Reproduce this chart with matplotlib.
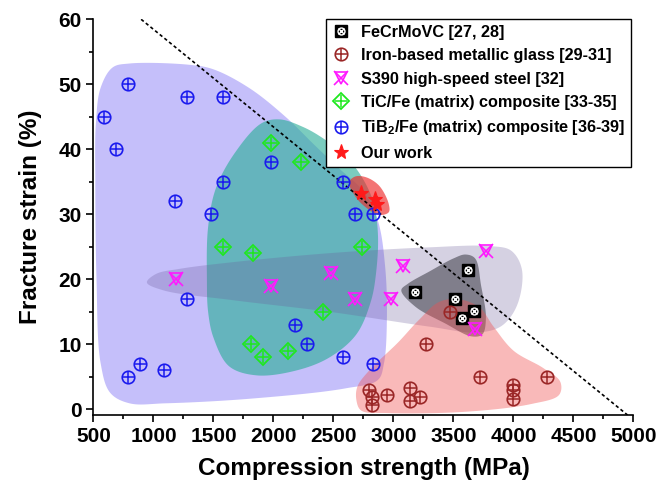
import numpy as np
import matplotlib
matplotlib.use('Agg')
import matplotlib.pyplot as plt
from matplotlib.patches import Polygon
from matplotlib.legend_handler import HandlerTuple
from matplotlib.ticker import MultipleLocator

plt.rcParams['font.family'] = ['Liberation Sans', 'DejaVu Sans']
plt.rcParams['font.weight'] = 'bold'
plt.rcParams['mathtext.fontset'] = 'custom'
plt.rcParams['mathtext.bf'] = 'Liberation Sans:bold'
plt.rcParams['mathtext.rm'] = 'Liberation Sans:bold'
plt.rcParams['mathtext.default'] = 'bf'

# ---------------- data ----------------
fecrmovc_x = [3180, 3620, 3510, 3670, 3570]
fecrmovc_y = [18.0, 21.4, 17.0, 15.1, 14.0]

glass_x = [3470, 3270, 3720, 4280, 4000, 4000, 4000, 2800, 2825, 2825, 2950, 3135, 3135, 3220]
glass_y = [15.0, 10.0, 5.0, 5.0, 3.7, 2.9, 1.6, 2.9, 1.8, 0.6, 2.2, 3.2, 1.2, 1.9]

s390_x = [1190, 1980, 2480, 3080, 2680, 2980, 3770, 3680]
s390_y = [20.0, 19.0, 21.0, 22.0, 17.0, 17.0, 24.4, 12.4]

tic_x = [1980, 2230, 1580, 1830, 1810, 1910, 2120, 2410, 2740]
tic_y = [41.0, 38.0, 25.0, 24.0, 10.0, 8.0, 9.0, 15.0, 25.0]

tib2_x = [590, 690, 790, 1280, 1580, 1180, 1480, 1580, 1980, 2580,
          2680, 2830, 1280, 790, 890, 1090, 2180, 2280, 2580, 2830]
tib2_y = [45, 40, 50, 48, 48, 32, 30, 35, 38, 35,
          30, 30, 17, 5, 7, 6, 13, 10, 8, 7]

ours_x = [2730, 2850, 2860]
ours_y = [33.3, 32.3, 31.5]

ref_line_x = [897, 4950]
ref_line_y = [60, -0.9]

# region outlines (control points, data coords)
tib2_hull_x = [520, 560, 660, 800, 1300, 1500, 1800, 2100, 2350, 2550, 2750, 2870, 2930, 2945, 2920, 2870, 2600, 1800, 1100, 800, 640, 560, 525, 515]
tib2_hull_y = [44, 49.5, 52.6, 53.2, 53.0, 52.3, 49.4, 45.0, 40.5, 37.0, 33.5, 29.0, 22, 14, 7, 4.5, 3.2, 1.6, 0.9, 0.9, 2.5, 7, 20, 35]

tic_hull_x = [1445, 1455, 1520, 1680, 1900, 2050, 2250, 2420, 2580, 2720, 2830, 2870, 2855, 2810, 2690, 2470, 2200, 1860, 1630, 1500, 1455]
tic_hull_y = [20, 28, 34, 39.5, 44.0, 44.6, 43.4, 41.6, 39.3, 36.2, 32, 27, 21, 16.5, 11.5, 8, 6.0, 5.2, 6.6, 11, 15]

s390_hull_x = [945, 1020, 1220, 1650, 2460, 3290, 3800, 3980, 4070, 4030, 3900, 3700, 3300, 2460, 1650, 1080]
s390_hull_y = [19.5, 20.8, 21.6, 22.6, 24.0, 24.9, 25.1, 24.4, 21.5, 16, 12.8, 11.8, 12.7, 15, 16.8, 18.3]

fecr_hull_x = [3065, 3120, 3300, 3500, 3600, 3680, 3730, 3770, 3740, 3650, 3430, 3180]
fecr_hull_y = [18.3, 19.3, 21.2, 23.2, 23.8, 23.2, 19, 14, 11.5, 11.2, 13.2, 15.8]

glass_hull_x = [2700, 2800, 3040, 3210, 3380, 3550, 3720, 3830, 4000, 4250, 4390, 4380, 4150, 3600, 2950, 2730, 2690]
glass_hull_y = [3.5, 6, 10.3, 13.7, 16.5, 16.9, 15.6, 12.8, 9, 6.3, 4.2, 2.2, 0.8, -0.4, -0.6, -0.2, 1.5]

ours_hull_x = [2630, 2680, 2770, 2880, 2960, 2960, 2880, 2760, 2680]
ours_hull_y = [34.9, 35.8, 35.7, 34.4, 31.6, 30.3, 29.9, 31.2, 32.8]

labels = ['FeCrMoVC [27, 28]', 'Iron-based metallic glass [29-31]',
          'S390 high-speed steel [32]', 'TiC/Fe (matrix) composite [33-35]',
          r'TiB$_\mathbf{2}$/Fe (matrix) composite [36-39]', 'Our work']

# ---------------- helpers ----------------
SX, SY = 0.12, 6.5


def smooth_closed(xs, ys, n=24, alpha=0.5):
    P = np.column_stack([np.asarray(xs, float) * SX, np.asarray(ys, float) * SY])
    m = len(P)
    out = []

    def tj(ti, pi, pj):
        return ti + max(np.linalg.norm(pj - pi), 1e-6) ** alpha
    for i in range(m):
        p0, p1, p2, p3 = P[i - 1], P[i], P[(i + 1) % m], P[(i + 2) % m]
        t0 = 0.0
        t1 = tj(t0, p0, p1)
        t2 = tj(t1, p1, p2)
        t3 = tj(t2, p2, p3)
        t = np.linspace(t1, t2, n, endpoint=False)[:, None]
        A1 = (t1 - t) / (t1 - t0) * p0 + (t - t0) / (t1 - t0) * p1
        A2 = (t2 - t) / (t2 - t1) * p1 + (t - t1) / (t2 - t1) * p2
        A3 = (t3 - t) / (t3 - t2) * p2 + (t - t2) / (t3 - t2) * p3
        B1 = (t2 - t) / (t2 - t0) * A1 + (t - t0) / (t2 - t0) * A2
        B2 = (t3 - t) / (t3 - t1) * A2 + (t - t1) / (t3 - t1) * A3
        C = (t2 - t) / (t2 - t1) * B1 + (t - t1) / (t2 - t1) * B2
        out.append(C)
    out = np.vstack(out)
    return np.column_stack([out[:, 0] / SX, out[:, 1] / SY])


fig = plt.figure(figsize=(6.56, 4.87), dpi=100)
ax = fig.add_axes([93.5 / 656, (487 - 415) / 487, 540 / 656, 396 / 487])


def hull(xs, ys, color, alpha, z):
    ax.add_patch(Polygon(smooth_closed(xs, ys), closed=True, facecolor=color,
                         alpha=alpha, edgecolor='none', zorder=z))


hull(tib2_hull_x, tib2_hull_y, '#7c6ef4', 0.44, 1)
hull(tic_hull_x, tic_hull_y, '#2aae98', 0.62, 2)
hull(s390_hull_x, s390_hull_y, '#6a5a9a', 0.28, 3)
hull(fecr_hull_x, fecr_hull_y, '#3a3a44', 0.55, 4)
hull(glass_hull_x, glass_hull_y, '#f05050', 0.4, 5)
hull(ours_hull_x, ours_hull_y, '#ee2a2a', 0.65, 6)

ax.plot(ref_line_x, ref_line_y, color='black', lw=1.2, ls=(0, (2, 1.6)), zorder=7)


def markers(xs, ys, specs):
    hs = []
    for sp in specs:
        h, = ax.plot(xs, ys, ls='none', zorder=10, **sp)
        hs.append(h)
    return tuple(hs)


h_fe = markers(fecrmovc_x, fecrmovc_y, [
    dict(marker='s', ms=8.5, mfc='black', mec='black', mew=1.0),
    dict(marker='o', ms=5, mfc='none', mec='white', mew=1.0),
    dict(marker='x', ms=4, mfc='none', mec='white', mew=1.0)])
c_gl = '#9a2626'
h_gl = markers(glass_x, glass_y, [
    dict(marker='o', ms=9, mfc='none', mec=c_gl, mew=1.2),
    dict(marker='+', ms=9, mec=c_gl, mew=1.1)])
c_s3 = '#ff1aff'
h_s3 = markers(s390_x, s390_y, [
    dict(marker='v', ms=8, mfc='none', mec=c_s3, mew=1.2),
    dict(marker='x', ms=10, mec=c_s3, mew=1.2)])
c_tc = '#1ee81e'
h_tc = markers(tic_x, tic_y, [
    dict(marker='D', ms=8, mfc='none', mec=c_tc, mew=1.3),
    dict(marker='+', ms=8, mec=c_tc, mew=1.1)])
c_tb = '#1a1aee'
h_tb = markers(tib2_x, tib2_y, [
    dict(marker='o', ms=9, mfc='none', mec=c_tb, mew=1.2),
    dict(marker='+', ms=9, mec=c_tb, mew=1.1)])
h_ou = markers(ours_x, ours_y, [
    dict(marker='*', ms=11, mfc='#ff1a1a', mec='#ff1a1a', mew=0.8)])

ax.set_xlim(500, 5000)
ax.set_ylim(-0.9, 60.05)
ax.xaxis.set_major_locator(MultipleLocator(500))
ax.xaxis.set_minor_locator(MultipleLocator(250))
ax.yaxis.set_major_locator(MultipleLocator(10))
ax.yaxis.set_minor_locator(MultipleLocator(5))
for s in ['top', 'right']:
    ax.spines[s].set_visible(False)
for s in ['left', 'bottom']:
    ax.spines[s].set_linewidth(1.2)
ax.tick_params(which='major', direction='out', length=5, width=1.2, labelsize=15)
ax.tick_params(which='minor', direction='out', length=3, width=1.2)
for lab in ax.get_xticklabels() + ax.get_yticklabels():
    lab.set_fontweight('bold')

ax.set_xlabel('Compression strength (MPa)', fontsize=17.5, fontweight='bold', labelpad=8)
ax.set_ylabel('Fracture strain (%)', fontsize=17.5, fontweight='bold', labelpad=12)

leg = ax.legend([h_fe, h_gl, h_s3, h_tc, h_tb, h_ou], labels,
                handler_map={tuple: HandlerTuple(ndivide=1, pad=0)},
                numpoints=1,
                loc='upper right', bbox_to_anchor=(0.995, 1.0), borderaxespad=0,
                fontsize=11.7, frameon=True, fancybox=False, framealpha=1,
                edgecolor='black', handlelength=1.2, handletextpad=0.6,
                labelspacing=0.52, borderpad=0.35)
leg.get_frame().set_linewidth(1.0)
leg.set_zorder(20)
for t in leg.get_texts():
    t.set_fontweight('bold')

fig.savefig('out.png', dpi=100)
